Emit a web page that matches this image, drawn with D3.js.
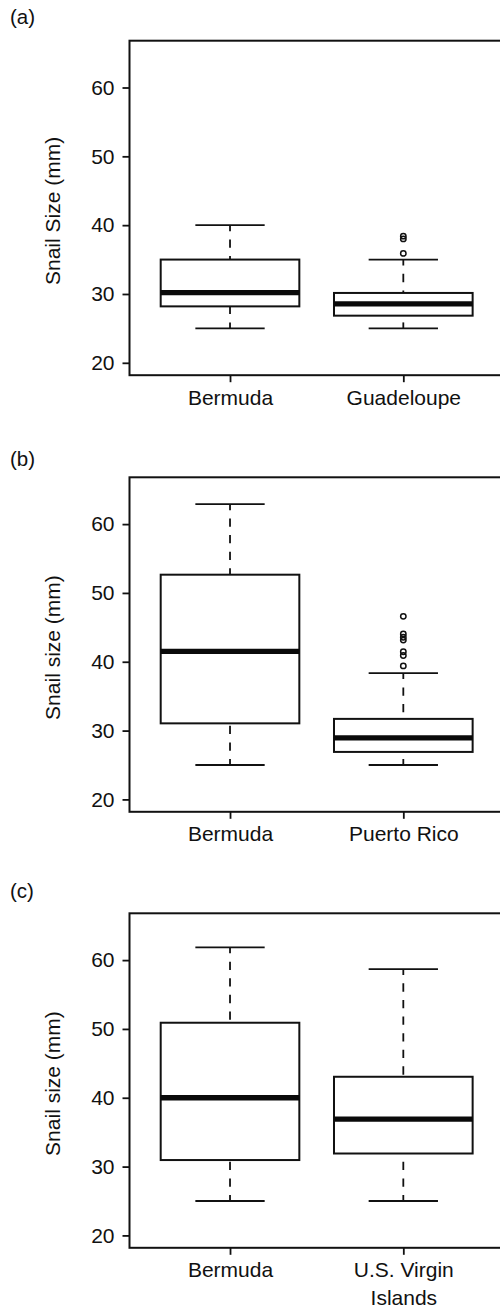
<!DOCTYPE html>
<html>
<head>
<meta charset="utf-8">
<script src="https://cdn.jsdelivr.net/npm/d3@7"></script>
<style>
  html, body { margin: 0; padding: 0; background: #fff; }
  svg { display: block; }
  text { font-family: "Liberation Sans", Arial, Helvetica, sans-serif; fill: #111; }
</style>
</head>
<body>
<svg id="chart" width="500" height="1307"></svg>
<script>
// Panel titles and axis titles
const panelLabels = ["(a)", "(b)", "(c)"];
const yTitles = ["Snail Size (mm)", "Snail size (mm)", "Snail size (mm)"];
const yTicks = [20, 30, 40, 50, 60];

// Panel (a): Bermuda vs Guadeloupe
const sitesA = ["Bermuda", "Guadeloupe"];
const lowA = [25, 25];
const q1A = [28.2, 26.85];
const medA = [30.2, 28.55];
const q3A = [35.0, 30.15];
const highA = [40.0, 35.0];
const outA = [[], [35.9, 38.0, 38.4]];

// Panel (b): Bermuda vs Puerto Rico
const sitesB = ["Bermuda", "Puerto Rico"];
const lowB = [25, 25];
const q1B = [31.05, 26.9];
const medB = [41.5, 28.95];
const q3B = [52.65, 31.7];
const highB = [62.9, 38.35];
const outB = [[], [39.4, 40.9, 41.45, 43.15, 43.55, 44.05, 46.6]];

// Panel (c): Bermuda vs U.S. Virgin Islands
const sitesC = ["Bermuda", "U.S. Virgin\nIslands"];
const lowC = [25, 25];
const q1C = [30.95, 31.9];
const medC = [40.0, 36.9];
const q3C = [50.9, 43.05];
const highC = [61.85, 58.7];
const outC = [[], []];

const panels = [
  { label: panelLabels[0], title: yTitles[0], sites: sitesA, low: lowA, q1: q1A, med: medA, q3: q3A, high: highA, out: outA, top: 40.7, labelY: 24 },
  { label: panelLabels[1], title: yTitles[1], sites: sitesB, low: lowB, q1: q1B, med: medB, q3: q3B, high: highB, out: outB, top: 477.3, labelY: 465.5 },
  { label: panelLabels[2], title: yTitles[2], sites: sitesC, low: lowC, q1: q1C, med: medC, q3: q3C, high: highC, out: outC, top: 913.3, labelY: 898 }
];

const svg = d3.select("#chart");
const frameLeft = 129.5;
const frameH = 334.5;
const unitPx = 173.3;          // pixels per group slot
const fontSize = 21;

panels.forEach(p => {
  const g = svg.append("g");
  const bottom = p.top + frameH;

  // y range 20..65 padded by 4% on each side
  const y = d3.scaleLinear().domain([18.2, 66.8]).range([bottom, p.top]);
  // groups sit at 1 and 2 on a 0.42..2.58 axis
  const x = d3.scaleLinear().domain([0.42, 2.58]).range([frameLeft, frameLeft + 2.16 * unitPx]);
  const pos = d3.scalePoint().domain(p.sites).range([x(1), x(2)]);
  const halfBox = x(1.4) - x(1);
  const halfCap = x(1.2) - x(1);

  // panel letter
  g.append("text")
    .attr("x", 10).attr("y", p.labelY)
    .attr("font-size", 20.5)
    .text(p.label);

  // y axis
  const yAxis = g.append("g")
    .attr("transform", `translate(${frameLeft},0)`)
    .call(d3.axisLeft(y).tickValues(yTicks).tickSize(7).tickPadding(8).tickFormat(d3.format("d")));
  yAxis.select(".domain").remove();
  yAxis.selectAll(".tick line").attr("stroke", "#111").attr("stroke-width", 1.8);
  yAxis.selectAll(".tick text").attr("font-size", fontSize).attr("font-family", null).attr("fill", "#111");

  // x axis ticks and site names
  const xAxis = g.append("g")
    .attr("transform", `translate(0,${bottom})`)
    .call(d3.axisBottom(pos).tickSize(7).tickPadding(7.5));
  xAxis.select(".domain").remove();
  xAxis.selectAll(".tick line").attr("stroke", "#111").attr("stroke-width", 1.8);
  xAxis.selectAll(".tick text")
    .attr("font-size", fontSize).attr("font-family", null).attr("fill", "#111")
    .each(function(d) {
      const lines = d.split("\n");
      if (lines.length > 1) {
        const t = d3.select(this).text(null);
        lines.forEach((ln, i) => {
          t.append("tspan").attr("x", 0).attr("dy", i === 0 ? "0.71em" : "1.3em").text(ln);
        });
        t.attr("dy", null);
      }
    });

  // y axis title
  g.append("text")
    .attr("transform", `translate(59.5,${(p.top + bottom) / 2 + 3}) rotate(-90)`)
    .attr("text-anchor", "middle")
    .attr("font-size", fontSize)
    .text(p.title);

  // boxes
  p.sites.forEach((s, i) => {
    const cx = pos(s);
    const box = g.append("g");

    // whiskers, drawn from the cap toward the box
    box.append("line")
      .attr("x1", cx).attr("x2", cx)
      .attr("y1", y(p.high[i])).attr("y2", y(p.q3[i]))
      .attr("stroke", "#111").attr("stroke-width", 1.8)
      .attr("stroke-dasharray", "8.3,8.3").attr("stroke-dashoffset", 2.3);
    box.append("line")
      .attr("x1", cx).attr("x2", cx)
      .attr("y1", y(p.low[i])).attr("y2", y(p.q1[i]))
      .attr("stroke", "#111").attr("stroke-width", 1.8)
      .attr("stroke-dasharray", "8.3,8.3").attr("stroke-dashoffset", 2.3);

    // caps
    [p.high[i], p.low[i]].forEach(v => {
      box.append("line")
        .attr("x1", cx - halfCap).attr("x2", cx + halfCap)
        .attr("y1", y(v)).attr("y2", y(v))
        .attr("stroke", "#111").attr("stroke-width", 1.8);
    });

    // interquartile box
    box.append("rect")
      .attr("x", cx - halfBox).attr("width", 2 * halfBox)
      .attr("y", y(p.q3[i])).attr("height", y(p.q1[i]) - y(p.q3[i]))
      .attr("fill", "#fff").attr("stroke", "#111").attr("stroke-width", 2);

    // median
    box.append("line")
      .attr("x1", cx - halfBox).attr("x2", cx + halfBox)
      .attr("y1", y(p.med[i])).attr("y2", y(p.med[i]))
      .attr("stroke", "#0a0a0a").attr("stroke-width", 5.3);

    // outliers
    box.selectAll("circle.out").data(p.out[i]).enter().append("circle")
      .attr("class", "out")
      .attr("cx", cx).attr("cy", v => y(v)).attr("r", 2.7)
      .attr("fill", "none").attr("stroke", "#111").attr("stroke-width", 1.5);
  });

  // plot frame (right edge runs past the page)
  g.append("rect")
    .attr("x", frameLeft).attr("y", p.top)
    .attr("width", 2.16 * unitPx).attr("height", frameH)
    .attr("fill", "none").attr("stroke", "#111").attr("stroke-width", 2);
});
</script>
</body>
</html>
